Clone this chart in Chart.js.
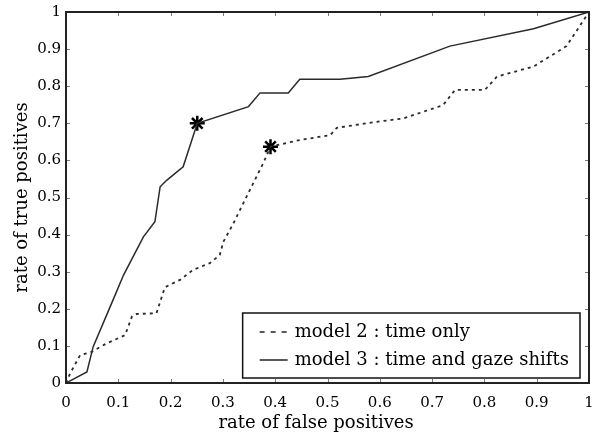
<!DOCTYPE html>
<html>
<head>
<meta charset="utf-8">
<script src="https://cdn.jsdelivr.net/npm/chart.js@4/dist/chart.umd.min.js"></script>
<style>
  html, body { margin: 0; padding: 0; background: #fff; overflow: hidden; }
  #wrap { width: 594px; height: 437px; position: relative; overflow: hidden; }
</style>
</head>
<body>
<div id="wrap"><canvas id="c" width="599" height="437"></canvas></div>
<script>
// ---- data ----
const model2Label = "model 2 : time only";
const model3Label = "model 3 : time and gaze shifts";

const model2X = [0, 0.008, 0.027, 0.049, 0.078, 0.113, 0.126, 0.135, 0.173, 0.189, 0.218, 0.243, 0.275, 0.294, 0.301, 0.320, 0.342, 0.377, 0.391, 0.447, 0.505, 0.518, 0.594, 0.645, 0.721, 0.744, 0.801, 0.824, 0.894, 0.957, 1.0];
const model2Y = [0, 0.026, 0.075, 0.084, 0.107, 0.129, 0.179, 0.186, 0.188, 0.258, 0.278, 0.305, 0.323, 0.345, 0.381, 0.430, 0.493, 0.592, 0.637, 0.655, 0.668, 0.688, 0.704, 0.713, 0.749, 0.790, 0.790, 0.826, 0.853, 0.908, 1.0];

const model3X = [0, 0.040, 0.052, 0.090, 0.110, 0.148, 0.170, 0.180, 0.193, 0.224, 0.251, 0.349, 0.371, 0.425, 0.447, 0.524, 0.578, 0.734, 0.894, 1.0];
const model3Y = [0, 0.030, 0.098, 0.224, 0.291, 0.394, 0.435, 0.529, 0.547, 0.583, 0.700, 0.745, 0.782, 0.782, 0.819, 0.819, 0.826, 0.908, 0.955, 1.0];

const markerX = [0.391, 0.251];
const markerY = [0.637, 0.700];

const tickValues = [0, 0.1, 0.2, 0.3, 0.4, 0.5, 0.6, 0.7, 0.8, 0.9, 1];
const xTitle = "rate of false positives    ";
const yTitle = "rate of true positives";

// ---- build ----
const toPts = (xs, ys) => xs.map((x, i) => ({ x: x, y: ys[i] }));
const SERIF = "'DejaVu Serif', 'Liberation Serif', serif";
const fmt = v => (Math.abs(v) < 1e-9 ? "0" : Math.abs(v - 1) < 1e-9 ? "1" : String(Math.round(v * 10) / 10));

const frameAndTicks = {
  id: 'frameAndTicks',
  afterDraw(chart) {
    const ctx = chart.ctx, a = chart.chartArea;
    const xs = chart.scales.x, ys = chart.scales.y;
    ctx.save();
    // inward tick marks on all four sides
    ctx.strokeStyle = '#7a7a7a';
    ctx.lineWidth = 1;
    const tl = 4;
    tickValues.forEach(v => {
      const px = Math.round(xs.getPixelForValue(v)) + 0.5;
      const py = Math.round(ys.getPixelForValue(v)) + 0.5;
      ctx.beginPath();
      ctx.moveTo(px, a.bottom); ctx.lineTo(px, a.bottom - tl);
      ctx.moveTo(px, a.top); ctx.lineTo(px, a.top + tl);
      ctx.moveTo(a.left, py); ctx.lineTo(a.left + tl, py);
      ctx.moveTo(a.right, py); ctx.lineTo(a.right - tl, py);
      ctx.stroke();
    });
    // frame
    ctx.strokeStyle = '#222';
    ctx.lineWidth = 2;
    ctx.strokeRect(a.left, a.top, a.right - a.left, a.bottom - a.top);

    // legend box inside plot, bottom right
    const ds = chart.data.datasets.filter(d => d.inLegend);
    ctx.font = "18px " + SERIF;
    let maxW = 0;
    ds.forEach(d => { maxW = Math.max(maxW, ctx.measureText(d.label).width); });
    const padL = 17, sampleW = 28, gap = 7, padR = 11;
    const boxW = padL + sampleW + gap + maxW + padR;
    const boxH = 65;
    const bx = a.right - 9 - boxW;
    const by = a.bottom - 5 - boxH;
    ctx.fillStyle = '#fff';
    ctx.fillRect(bx, by, boxW, boxH);
    ctx.strokeStyle = '#111';
    ctx.lineWidth = 1.5;
    ctx.strokeRect(bx, by, boxW, boxH);
    const rows = [by + 19, by + 47];
    ds.forEach((d, i) => {
      const ry = rows[i];
      ctx.beginPath();
      ctx.strokeStyle = '#222';
      ctx.lineWidth = 1.5;
      ctx.setLineDash(d.legendDash || []);
      ctx.moveTo(bx + padL, ry); ctx.lineTo(bx + padL + sampleW, ry);
      ctx.stroke();
      ctx.setLineDash([]);
      ctx.fillStyle = '#000';
      ctx.textBaseline = 'middle';
      ctx.textAlign = 'left';
      ctx.fillText(d.label, bx + padL + sampleW + gap, ry);
    });
    ctx.restore();
  }
};

new Chart(document.getElementById('c'), {
  type: 'line',
  data: {
    datasets: [
      {
        label: model2Label,
        data: toPts(model2X, model2Y),
        borderColor: '#2a2a2a',
        borderWidth: 1.8,
        borderDash: [3, 4],
        pointRadius: 0,
        tension: 0,
        fill: false,
        inLegend: true,
        legendDash: [5, 6]
      },
      {
        label: model3Label,
        data: toPts(model3X, model3Y),
        borderColor: '#2a2a2a',
        borderWidth: 1.5,
        pointRadius: 0,
        tension: 0,
        fill: false,
        inLegend: true
      },
      {
        label: 'operating points',
        data: toPts(markerX, markerY),
        showLine: false,
        pointStyle: 'star',
        pointRadius: 7.5,
        pointBorderWidth: 2.5,
        pointBorderColor: '#000',
        pointBackgroundColor: '#000',
        borderColor: '#000'
      }
    ]
  },
  options: {
    responsive: false,
    animation: false,
    devicePixelRatio: 1,
    layout: { padding: { left: 0, right: 0, top: 12, bottom: 0 } },
    plugins: {
      legend: { display: false },
      tooltip: { enabled: false }
    },
    scales: {
      x: {
        type: 'linear',
        min: 0, max: 1,
        afterFit: s => { s.height = 54; s.paddingLeft = 0; s.paddingRight = 0; },
        afterBuildTicks: s => { s.ticks = tickValues.map(v => ({ value: v })); },
        grid: { display: false, drawTicks: false },
        border: { display: false },
        ticks: {
          padding: 11,
          maxRotation: 0,
          color: '#000',
          font: { family: SERIF, size: 15 },
          callback: v => fmt(v)
        },
        title: {
          display: true,
          text: xTitle,
          color: '#000',
          font: { family: SERIF, size: 18 },
          padding: { top: 0, bottom: 3 }
        }
      },
      y: {
        type: 'linear',
        min: 0, max: 1,
        afterFit: s => { s.width = 66; s.paddingTop = 0; s.paddingBottom = 0; },
        afterBuildTicks: s => { s.ticks = tickValues.map(v => ({ value: v })); },
        grid: { display: false, drawTicks: false },
        border: { display: false },
        ticks: {
          padding: 5,
          color: '#000',
          font: { family: SERIF, size: 15 },
          callback: v => fmt(v)
        },
        title: {
          display: true,
          text: yTitle,
          color: '#000',
          font: { family: SERIF, size: 18 },
          padding: { top: 12, bottom: 0 }
        }
      }
    }
  },
  plugins: [frameAndTicks]
});
</script>
</body>
</html>
